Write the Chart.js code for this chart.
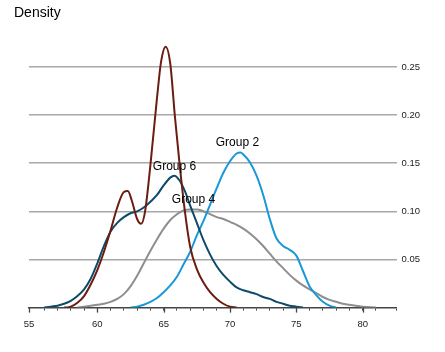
<!DOCTYPE html>
<html>
<head>
<meta charset="utf-8">
<script src="https://cdn.jsdelivr.net/npm/chart.js@4/dist/chart.umd.min.js"></script>
<style>
  html, body { margin: 0; padding: 0; background: #fff; }
  #wrap { width: 445px; height: 352px; position: relative; }
</style>
</head>
<body>
<div id="wrap"><canvas id="myChart"></canvas></div>
<script>
// density curves
const redX = [57.5, 58, 58.5, 59, 59.5, 60, 60.5, 61, 61.5, 62, 62.3, 62.6, 63, 63.3, 63.6, 64, 64.5, 64.8, 65.15, 65.5, 65.85, 66.2, 66.6, 67, 67.5, 68, 68.5, 69, 69.5, 70, 70.5];
const redY = [0, 0.001, 0.005, 0.012, 0.024, 0.039, 0.058, 0.08, 0.104, 0.12, 0.121, 0.111, 0.092, 0.087, 0.1, 0.148, 0.218, 0.255, 0.271, 0.253, 0.198, 0.149, 0.1, 0.063, 0.04, 0.026, 0.016, 0.009, 0.004, 0.001, 0];

const g6X = [56, 56.5, 57, 57.5, 58, 58.5, 59, 59.5, 60, 60.5, 61, 61.5, 62, 62.5, 63, 63.5, 64, 64.5, 65, 65.5, 65.8, 66.2, 66.6, 67, 67.5, 68, 68.5, 69, 69.5, 70, 70.5, 71, 71.5, 72, 72.5, 73, 73.5, 74, 74.5, 75, 75.5];
const g6Y = [0, 0.001, 0.002, 0.004, 0.007, 0.012, 0.019, 0.03, 0.046, 0.064, 0.079, 0.088, 0.094, 0.098, 0.1, 0.104, 0.11, 0.117, 0.127, 0.135, 0.137, 0.132, 0.121, 0.106, 0.088, 0.07, 0.055, 0.043, 0.034, 0.027, 0.021, 0.018, 0.016, 0.014, 0.011, 0.009, 0.006, 0.004, 0.002, 0.001, 0];

const g4X = [58.5, 59, 59.5, 60, 60.5, 61, 61.5, 62, 62.5, 63, 63.5, 64, 64.5, 65, 65.5, 66, 66.5, 67, 67.5, 68, 68.5, 69, 69.5, 70, 70.5, 71, 71.5, 72, 72.5, 73, 73.5, 74, 74.5, 75, 75.5, 76, 76.5, 77, 77.5, 78, 78.5, 79, 79.5, 80, 81];
const g4Y = [0, 0.001, 0.002, 0.003, 0.004, 0.006, 0.009, 0.014, 0.022, 0.033, 0.046, 0.059, 0.071, 0.082, 0.091, 0.097, 0.101, 0.102, 0.102, 0.1, 0.097, 0.094, 0.092, 0.089, 0.086, 0.082, 0.077, 0.071, 0.064, 0.056, 0.048, 0.041, 0.034, 0.028, 0.023, 0.019, 0.015, 0.011, 0.008, 0.006, 0.004, 0.003, 0.002, 0.001, 0];

const g2X = [62.5, 63, 63.5, 64, 64.5, 65, 65.5, 66, 66.5, 67, 67.5, 68, 68.5, 69, 69.5, 70, 70.5, 70.8, 71, 71.5, 72, 72.5, 73, 73.5, 74, 74.5, 75, 75.5, 76, 76.5, 77, 77.5, 78];
const g2Y = [0, 0.001, 0.003, 0.006, 0.01, 0.016, 0.023, 0.032, 0.045, 0.058, 0.075, 0.09, 0.107, 0.124, 0.14, 0.152, 0.16, 0.161, 0.159, 0.151, 0.137, 0.117, 0.092, 0.072, 0.064, 0.06, 0.054, 0.038, 0.022, 0.013, 0.006, 0.002, 0];

const labelText = ["Group 2", "Group 6", "Group 4"];
const labelX = [70.56, 65.82, 67.25];
const labelY = [0.171, 0.1466, 0.1124];

const yTicks = [0.05, 0.10, 0.15, 0.20, 0.25];

function pairs(xs, ys) {
    return xs.map((x, i) => ({ x: x, y: ys[i] }));
}

function curve(xs, ys, color, order) {
    return {
        data: pairs(xs, ys),
        borderColor: color,
        borderWidth: 2,
        pointRadius: 0,
        fill: false,
        cubicInterpolationMode: "monotone",
        order: order
    };
}

// title, group labels and the longer ticks at every 5
const extras = {
    id: "extras",
    afterDraw(chart) {
        const ctx = chart.ctx;
        const xs = chart.scales.x;
        const ys = chart.scales.y;
        ctx.save();
        ctx.strokeStyle = "#444";
        ctx.lineWidth = 1.3;
        xs.ticks.forEach(t => {
            if (Math.round(t.value) % 5 === 0) {
                const px = Math.round(xs.getPixelForValue(t.value)) + 0.5;
                ctx.beginPath();
                ctx.moveTo(px, ys.bottom);
                ctx.lineTo(px, ys.bottom + 5);
                ctx.stroke();
            }
        });
        ctx.fillStyle = "#000";
        ctx.font = "12px 'Liberation Sans', Arial, sans-serif";
        ctx.textAlign = "center";
        ctx.textBaseline = "middle";
        labelText.forEach((txt, i) => {
            ctx.fillText(txt, xs.getPixelForValue(labelX[i]), ys.getPixelForValue(labelY[i]));
        });
        ctx.font = "14px 'Liberation Sans', Arial, sans-serif";
        ctx.textAlign = "left";
        ctx.fillText("Density", 14, 13);
        ctx.restore();
    }
};

const ctx = document.getElementById("myChart").getContext("2d");
new Chart(ctx, {
    type: "line",
    data: {
        datasets: [
            curve(redX, redY, "#6b1d12", 1),
            curve(g6X, g6Y, "#0e4a6a", 2),
            curve(g2X, g2Y, "#1a97d8", 3),
            curve(g4X, g4Y, "#8e8e8e", 4)
        ]
    },
    options: {
        responsive: true,
        maintainAspectRatio: false,
        animation: false,
        layout: { padding: { left: 29, right: 20, top: 38, bottom: 14 } },
        plugins: {
            legend: { display: false },
            tooltip: { enabled: false }
        },
        scales: {
            x: {
                type: "linear",
                min: 54.85,
                max: 82.55,
                border: { display: true, color: "#444", width: 1.5 },
                grid: { drawOnChartArea: false, drawTicks: true, tickLength: 3, tickColor: "#444", tickWidth: 1 },
                ticks: {
                    stepSize: 1,
                    autoSkip: false,
                    maxRotation: 0,
                    padding: 8,
                    color: "#222",
                    font: { size: 9.5, family: "'Liberation Sans', Arial, sans-serif" },
                    callback: v => (Math.round(v) % 5 === 0 ? String(Math.round(v)) : "")
                }
            },
            y: {
                position: "right",
                min: 0,
                max: 0.28,
                afterBuildTicks: axis => {
                    axis.ticks = yTicks.map(v => ({ value: v }));
                },
                border: { display: false },
                grid: {
                    drawTicks: false,
                    color: "#a8a8a8",
                    lineWidth: 1.5
                },
                ticks: {
                    padding: 5,
                    color: "#222",
                    font: { size: 9.5, family: "'Liberation Sans', Arial, sans-serif" },
                    callback: v => v.toFixed(2)
                }
            }
        }
    },
    plugins: [extras]
});
</script>
</body>
</html>
